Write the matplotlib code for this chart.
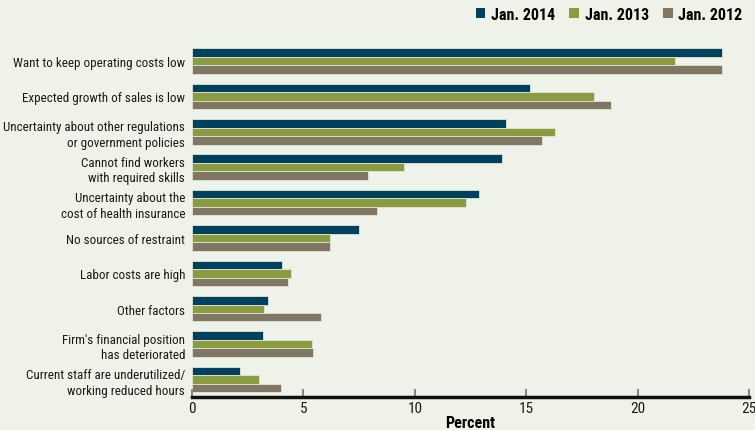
import matplotlib

matplotlib.use("Agg")
import matplotlib.pyplot as plt
from matplotlib import font_manager
from matplotlib.patches import Patch

# data
categories = [
    "Want to keep operating costs low",
    "Expected growth of sales is low",
    "Uncertainty about other regulations\nor government policies",
    "Cannot find workers\nwith required skills",
    "Uncertainty about the\ncost of health insurance",
    "No sources of restraint",
    "Labor costs are high",
    "Other factors",
    "Firm's financial position\nhas deteriorated",
    "Current staff are underutilized/\nworking reduced hours",
]
jan_2014 = [23.8, 15.15, 14.1, 13.9, 12.9, 7.5, 4.05, 3.4, 3.2, 2.15]
jan_2013 = [21.7, 18.05, 16.3, 9.5, 12.3, 6.2, 4.45, 3.25, 5.4, 3.0]
jan_2012 = [23.8, 18.8, 15.7, 7.9, 8.3, 6.2, 4.3, 5.8, 5.45, 4.0]
series_names = ["Jan. 2014", "Jan. 2013", "Jan. 2012"]
x_ticks = [0, 5, 10, 15, 20, 25]

colors = ["#00405f", "#8b9c40", "#7f7764"]
bg = "#eff2e8"

# pick a condensed font that is installed
names = {f.name for f in font_manager.fontManager.ttflist}
font = "DejaVu Sans"
for cand in ["Roboto Condensed", "Archivo Narrow", "Fira Sans Condensed",
             "IBM Plex Sans Condensed", "Liberation Sans Narrow"]:
    if cand in names:
        font = cand
        break
plt.rcParams["font.family"] = [font, "DejaVu Sans"]

fig = plt.figure(figsize=(7.55, 4.31), dpi=100, facecolor=bg)
ax = fig.add_axes([0.2543, 0.0766, 0.992 - 0.2543, 0.9 - 0.0766])
ax.set_facecolor(bg)

h = 0.24
pos = list(range(len(categories)))
for i, (vals, c, name) in enumerate(zip([jan_2014, jan_2013, jan_2012], colors, series_names)):
    ax.barh([p + (i - 1) * h for p in pos], vals, height=h, color=c,
            edgecolor="#dfe6d6", linewidth=0.6, label=name)

ax.set_xlim(0, 25)
ax.set_ylim(9.494, -0.537)
ax.set_yticks(pos)
ax.set_yticklabels(categories, fontsize=9.4, color="#1a1a1a", linespacing=1.25)
ax.tick_params(axis="y", length=0, pad=5)
ax.set_xticks(x_ticks)
ax.set_xticklabels([str(t) for t in x_ticks], fontsize=11, color="#1a1a1a")
ax.tick_params(axis="x", direction="in", length=6, width=1.5, color="#888888", pad=3)

for s in ["top", "right", "left"]:
    ax.spines[s].set_visible(False)
ax.spines["bottom"].set_linewidth(2.5)
ax.spines["bottom"].set_color("#111111")

ax.set_xlabel("Percent", fontsize=11.5, fontweight="bold", labelpad=0)

handles = [Patch(facecolor=c, edgecolor="none") for c in colors]
fig.legend(handles, series_names, loc="upper right", bbox_to_anchor=(0.998, 1.008), ncol=3,
           frameon=False, handlelength=0.6, handleheight=0.6, handletextpad=0.35,
           columnspacing=0.9, borderaxespad=0.3, prop={"weight": "bold", "size": 11.5})

fig.savefig("out.png", dpi=100, facecolor=bg)
